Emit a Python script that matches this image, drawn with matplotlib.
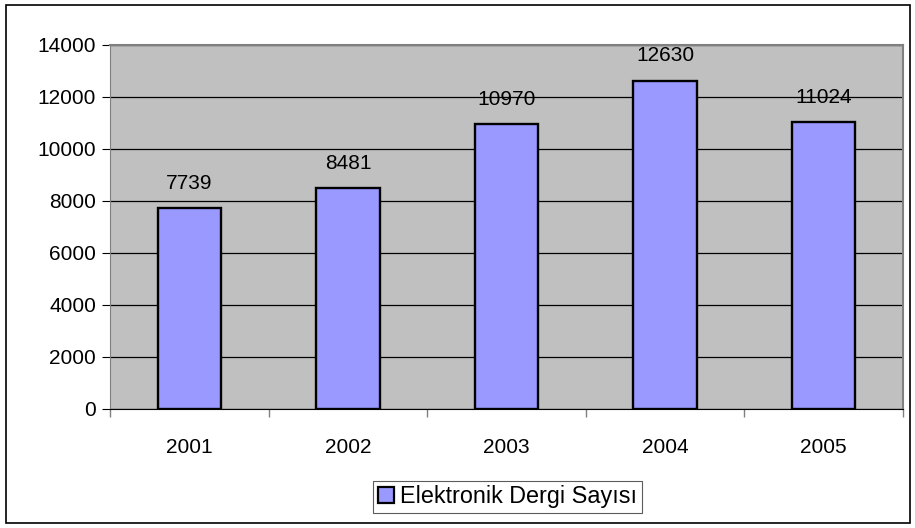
import matplotlib.pyplot as plt
from matplotlib.patches import Rectangle

plt.rcParams['font.family'] = ['Liberation Sans', 'DejaVu Sans']

years = ['2001', '2002', '2003', '2004', '2005']
counts = [7739, 8481, 10970, 12630, 11024]
series_name = 'Elektronik Dergi Sayısı'

W, H = 915, 528
fig = plt.figure(figsize=(W / 100, H / 100), dpi=100)

# outer chart border
fig.patches.append(Rectangle((6 / W, 5 / H), (910 - 6) / W, (523 - 5) / H,
                             transform=fig.transFigure, fill=False,
                             edgecolor='black', linewidth=1.2))

ax = fig.add_axes([110 / W, 1 - 409 / H, (903 - 110) / W, (409 - 45) / H])
ax.set_facecolor('#C0C0C0')

x = range(len(years))
bars = ax.bar(x, counts, width=0.4, color='#9999FF', edgecolor='black',
              linewidth=1.7, label=series_name, zorder=3)

for xi, v in zip(x, counts):
    ax.annotate(str(v), (xi, v), xytext=(0, 11), textcoords='offset points',
                ha='center', va='bottom', fontsize=15)

ax.set_xlim(-0.5, len(years) - 0.5)
ax.set_ylim(0, 14000)
ax.set_yticks(range(0, 14001, 2000))
ax.yaxis.grid(True, color='black', linewidth=0.9, zorder=0)
ax.set_axisbelow(True)

ax.set_xticks([i - 0.5 for i in range(len(years) + 1)])
ax.set_xticklabels([])
ax.set_xticks(list(x), minor=True)
ax.set_xticklabels(years, minor=True, fontsize=15)
ax.tick_params(axis='x', which='major', length=6, direction='out', width=1, color='#808080')
ax.tick_params(axis='x', which='minor', length=0, pad=21)
ax.tick_params(axis='y', length=6, direction='out', labelsize=15, pad=4)

for s in ['top', 'right']:
    ax.spines[s].set_color('#808080')
    ax.spines[s].set_linewidth(1.5)
ax.spines['left'].set_color('#808080')
ax.spines['bottom'].set_color('black')

leg = fig.legend(handles=[bars], labels=[series_name], loc='center left',
                 bbox_to_anchor=(373 / W, 1 - 497 / H), fontsize=16.8,
                 frameon=True, fancybox=False, shadow=False,
                 handlelength=0.72, handleheight=0.68, handletextpad=0.25,
                 borderpad=0.2, borderaxespad=0)
leg.get_frame().set_edgecolor('#333333')
leg.get_frame().set_linewidth(0.8)
for h in leg.legend_handles:
    h.set_linewidth(1.6)

fig.savefig('out.png', dpi=100)
